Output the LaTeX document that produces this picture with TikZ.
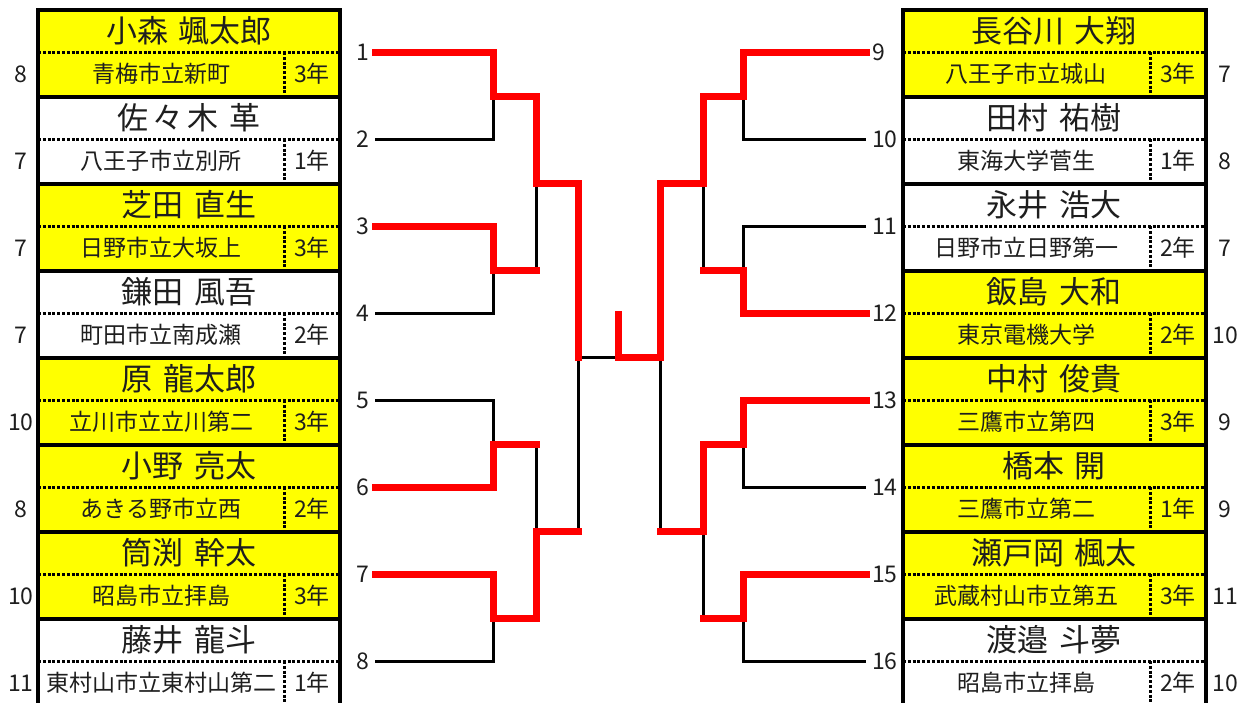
\documentclass[tikz,border=0pt]{standalone}
\usepackage{fontspec}
\setmainfont{Noto Sans CJK JP}
\definecolor{winner}{HTML}{FFFF00}
\definecolor{ink}{HTML}{1E1E1E}

\begin{document}
\begin{tikzpicture}[x=1pt, y=-1pt,
  namelbl/.style={font=\fontsize{31}{32}\selectfont, text=ink, inner sep=0pt},
  schoollbl/.style={font=\fontsize{23}{24}\selectfont, text=ink, inner sep=0pt},
  numlbl/.style={font=\fontsize{23}{24}\selectfont, text=ink, inner ysep=0pt, inner xsep=6pt},
  boxframe/.style={line width=4pt},
  cutline/.style={line width=3pt, dash pattern=on 3pt off 1.8pt},
  lost/.style={line width=3pt},
  won/.style={line width=7pt, red, line cap=rect, line join=miter}]

\useasboundingbox (0,0) rectangle (1239,702);
\clip (0,0) rectangle (1239,702);

% left column of players
\foreach \i/\fam/\giv/\sc/\yr/\sd/\fc in {
  1/小森/颯太郎/青梅市立新町/3年/8/winner,
  2/{佐\hspace{4pt}々\hspace{4pt}木}/革/八王子市立別所/1年/7/white,
  3/芝田/直生/日野市立大坂上/3年/7/winner,
  4/鎌田/風吾/町田市立南成瀬/2年/7/white,
  5/原/龍太郎/立川市立立川第二/3年/10/winner,
  6/小野/亮太/あきる野市立西/2年/8/winner,
  7/筒渕/幹太/昭島市立拝島/3年/10/winner,
  8/藤井/龍斗/東村山市立東村山第二/1年/11/white}
{
  \pgfmathsetmacro\ytop{10+87*(\i-1)}
  \fill[\fc] (38,\ytop) rectangle (340,\ytop+87);
  \draw[cutline] (38,\ytop+42) -- (340,\ytop+42);
  \draw[cutline] (284,\ytop+42) -- (284,\ytop+87);
  \node[namelbl] (nameL\i) at (189,\ytop+21) {\fam\hspace{11pt}\giv};
  \node[schoollbl] (schoolL\i) at (161,\ytop+64) {\sc};
  \node[schoollbl] (yearL\i) at (312,\ytop+64) {\yr};
  \node[numlbl] (seedL\i) at (21,\ytop+64) {\sd};
}
\draw[boxframe] (38,10) rectangle (340,710);
\foreach \k in {1,...,7}
  \draw[boxframe] (38,10+87*\k) -- (340,10+87*\k);

% right column of players
\foreach \i/\fam/\giv/\sc/\yr/\sd/\fc in {
  9/長谷川/大翔/八王子市立城山/3年/7/winner,
  10/田村/祐樹/東海大学菅生/1年/8/white,
  11/永井/浩大/日野市立日野第一/2年/7/white,
  12/飯島/大和/東京電機大学/2年/10/winner,
  13/中村/俊貴/三鷹市立第四/3年/9/winner,
  14/橋本/開/三鷹市立第二/1年/9/winner,
  15/瀬戸岡/楓太/武蔵村山市立第五/3年/11/winner,
  16/渡邉/斗夢/昭島市立拝島/2年/10/white}
{
  \pgfmathsetmacro\ytop{10+87*(\i-9)}
  \fill[\fc] (903,\ytop) rectangle (1206,\ytop+87);
  \draw[cutline] (903,\ytop+42) -- (1206,\ytop+42);
  \draw[cutline] (1150,\ytop+42) -- (1150,\ytop+87);
  \node[namelbl] (nameR\i) at (1054,\ytop+21) {\fam\hspace{11pt}\giv};
  \node[schoollbl] (schoolR\i) at (1026,\ytop+64) {\sc};
  \node[schoollbl] (yearR\i) at (1178,\ytop+64) {\yr};
  \node[numlbl] (seedR\i) at (1225,\ytop+64) {\sd};
}
\draw[boxframe] (903,10) rectangle (1206,710);
\foreach \k in {1,...,7}
  \draw[boxframe] (903,10+87*\k) -- (1206,10+87*\k);

% draw numbers
\foreach \i in {1,...,8}
  \node[numlbl, anchor=east] (n\i) at (375,52+87*\i-87) {\i};
\foreach \i in {9,...,16}
  \node[numlbl, anchor=west] (n\i) at (866,52+87*\i-783) {\i};

% bracket joints
\coordinate (L12) at (493,96);
\coordinate (L34) at (493,270);
\coordinate (L56) at (493,444);
\coordinate (L78) at (493,618);
\coordinate (L14) at (536,183);
\coordinate (L58) at (536,531);
\coordinate (L18) at (578,357);
\coordinate (R910) at (743,96);
\coordinate (R1112) at (743,270);
\coordinate (R1314) at (743,444);
\coordinate (R1516) at (743,618);
\coordinate (R912) at (703,183);
\coordinate (R1316) at (703,531);
\coordinate (R916) at (660,357);
\coordinate (champ) at (618,357);
\coordinate (champtop) at (618,314);

% plain bracket
\foreach \a/\b/\j in {1/2/L12,3/4/L34,5/6/L56,7/8/L78}
  \draw[lost] (n\a.east) -| (\j) |- (n\b.east);
\foreach \a/\b/\j in {9/10/R910,11/12/R1112,13/14/R1314,15/16/R1516}
  \draw[lost] (n\a.west) -| (\j) |- (n\b.west);
\draw[lost] (L12) -| (L14) |- (L34);
\draw[lost] (L56) -| (L58) |- (L78);
\draw[lost] (L14) -| (L18) |- (L58);
\draw[lost] (R910) -| (R912) |- (R1112);
\draw[lost] (R1314) -| (R1316) |- (R1516);
\draw[lost] (R912) -| (R916) |- (R1316);
\draw[lost] (L18) -- (R916);

% winners
\draw[won] (n1.east) -| (L12) -| (L14) -| (L18);
\draw[won] (n3.east) -| (L34) -- (L34 -| L14);
\draw[won] (n6.east) -| (L56) -- (L56 -| L58);
\draw[won] (n7.east) -| (L78) -| (L58) -- (L58 -| L18);
\draw[won] (n9.west) -| (R910) -| (R912) -| (R916) -- (champ) -- (champtop);
\draw[won] (n12.west) -| (R1112) -- (R1112 -| R912);
\draw[won] (n13.west) -| (R1314) -| (R1316) -- (R1316 -| R916);
\draw[won] (n15.west) -| (R1516) -- (R1516 -| R1316);

\end{tikzpicture}
\end{document}
